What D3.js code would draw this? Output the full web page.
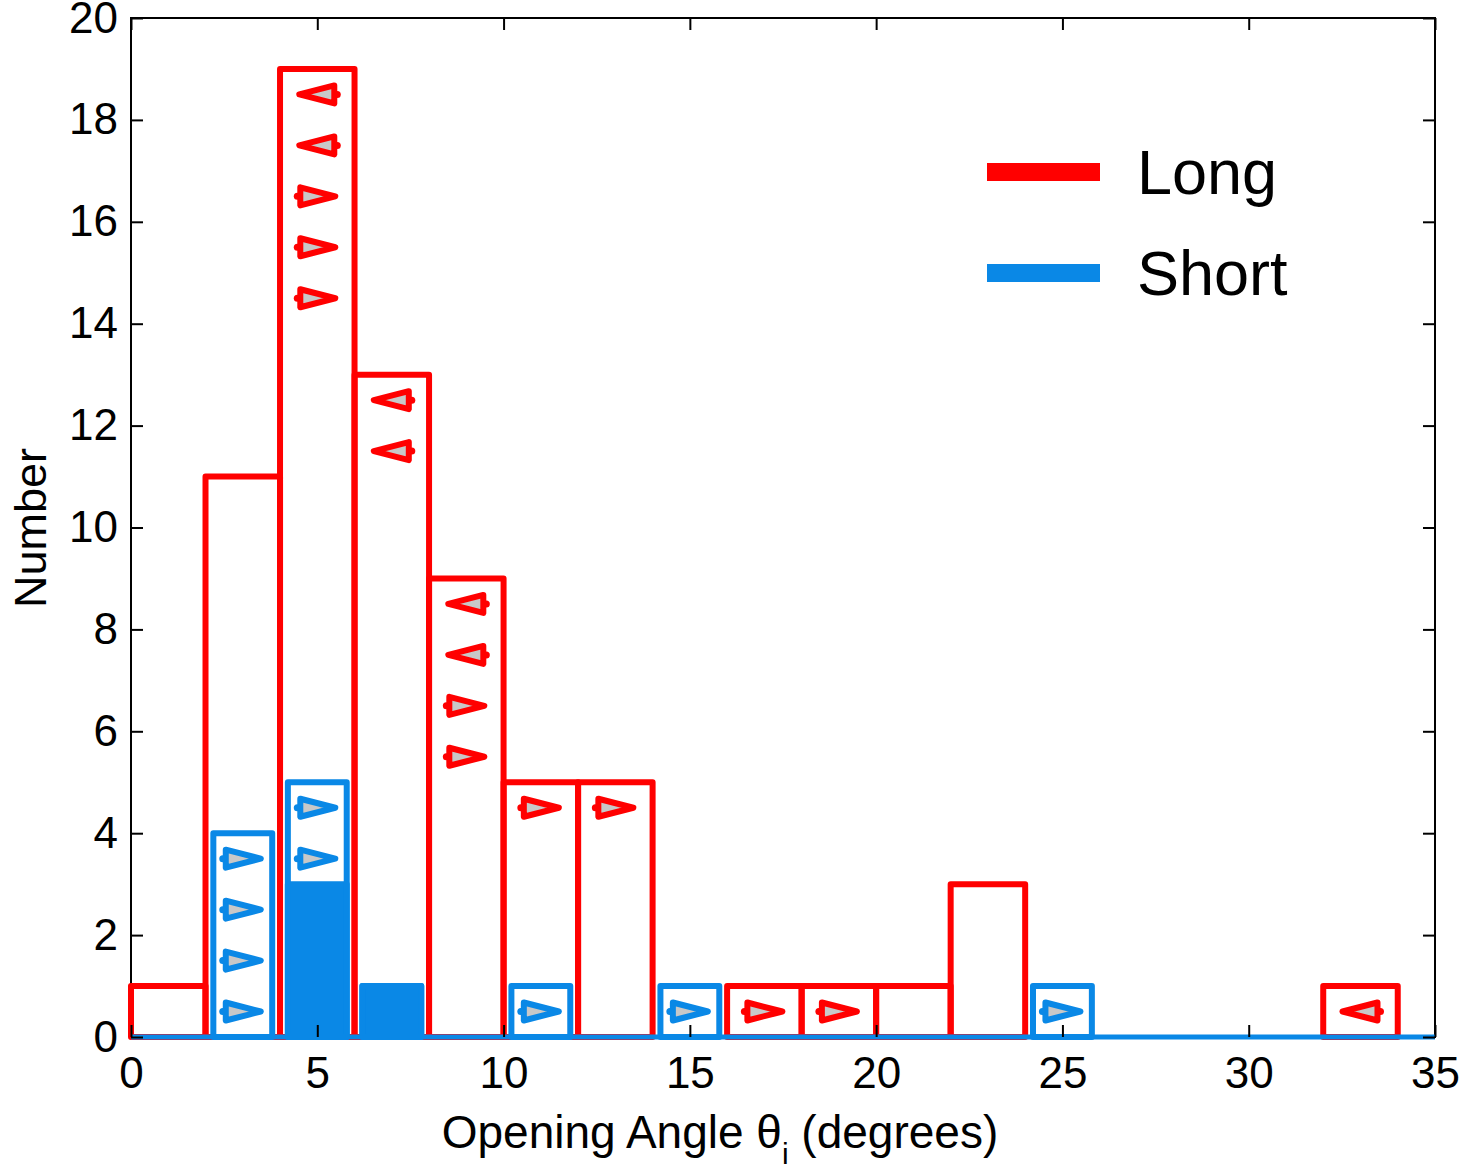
<!DOCTYPE html>
<html>
<head>
<meta charset="utf-8">
<script src="https://cdn.jsdelivr.net/npm/d3@7"></script>
<style>
    body { margin: 0; background: white; }
    svg { display: block; font-family: "Liberation Sans", Arial, Helvetica, sans-serif; }
</style>
</head>
<body>
<svg width="1462" height="1170"></svg>
<script>
let longColor = "#ff0000";
let shortColor = "#0a88e6";
let markerFill = "#c8c8c8";

// histogram bins, 2 degrees wide, starting at 0
const binStarts = [0, 2, 4, 6, 8, 10, 12, 14, 16, 18, 20, 22, 24, 26, 28, 30, 32];
const longCounts = [1, 11, 19, 13, 9, 5, 5, 0, 1, 1, 1, 3, 0, 0, 0, 0, 1];
const shortCounts = [0, 4, 5, 1, 0, 1, 0, 1, 0, 0, 0, 0, 1, 0, 0, 0, 0];
const shortFilled = [0, 0, 3, 1, 0, 0, 0, 0, 0, 0, 0, 0, 0, 0, 0, 0, 0];

// triangle markers (x = bin centre, y = level, dir = pointing side)
const longMarkerX = [5, 5, 5, 5, 5, 7, 7, 9, 9, 9, 9, 11, 13, 17, 19, 33];
const longMarkerY = [18.5, 17.5, 16.5, 15.5, 14.5, 12.5, 11.5, 8.5, 7.5, 6.5, 5.5, 4.5, 4.5, 0.5, 0.5, 0.5];
const longMarkerDir = ["L", "L", "R", "R", "R", "L", "L", "L", "L", "R", "R", "R", "R", "R", "R", "L"];
const shortMarkerX = [3, 3, 3, 3, 5, 5, 11, 15, 25];
const shortMarkerY = [3.5, 2.5, 1.5, 0.5, 4.5, 3.5, 0.5, 0.5, 0.5];
const shortMarkerDir = ["R", "R", "R", "R", "R", "R", "R", "R", "R"];

const xTicks = [0, 5, 10, 15, 20, 25, 30, 35];
const yTicks = [0, 2, 4, 6, 8, 10, 12, 14, 16, 18, 20];
const legendLabels = ["Long", "Short"];

const binWidth = 2;
const shortInset = 0.21;

let xScale = d3.scaleLinear()
    .domain([0, 35])
    .range([131, 1435]);

let yScale = d3.scaleLinear()
    .domain([0, 20])
    .range([1037, 18]);

const svg = d3.select("svg");

const drawHistogram = (counts, color, inset, filled) => {
    svg.append("g")
        .selectAll("rect")
        .data(counts)
        .enter().append("rect")
        .attr("x", (d, i) => xScale(binStarts[i] + inset))
        .attr("y", d => yScale(d))
        .attr("width", (d, i) => xScale(binStarts[i] + binWidth - inset) - xScale(binStarts[i] + inset))
        .attr("height", d => yScale(0) - yScale(d))
        .attr("fill", filled ? color : "none")
        .attr("stroke", color)
        .attr("stroke-width", 6)
        .attr("stroke-linejoin", "round")
        .style("display", d => (filled && d == 0) ? "none" : null);
};

const markerPath = (dir) => {
    let s = dir == "R" ? 1 : -1;
    return `M${-17 * s},-9 L${18 * s},0 L${-17 * s},9 Z`;
};

const drawMarkers = (xs, ys, dirs, color) => {
    let g = svg.append("g");
    xs.forEach((x, i) => {
        let m = g.append("g")
            .attr("transform", `translate(${xScale(x)},${yScale(ys[i])})`);
        m.append("path")
            .attr("d", markerPath(dirs[i]))
            .attr("fill", markerFill)
            .attr("stroke", color)
            .attr("stroke-width", 6)
            .attr("stroke-linejoin", "round");
        m.append("circle")
            .attr("cx", dirs[i] == "R" ? -20 : 20)
            .attr("cy", 0)
            .attr("r", 3.5)
            .attr("fill", color);
    });
};

const drawFrame = () => {
    svg.append("rect")
        .attr("x", xScale(0))
        .attr("y", yScale(20))
        .attr("width", xScale(35) - xScale(0))
        .attr("height", yScale(0) - yScale(20))
        .attr("fill", "none")
        .attr("stroke", "black")
        .attr("stroke-width", 2);
};

const drawAxes = () => {
    let fontSize = 44;
    let tick = 12;

    // bottom / top
    svg.append("g")
        .attr("transform", `translate(0, ${yScale(0)})`)
        .call(d3.axisBottom(xScale).tickValues(xTicks).tickSizeInner(-tick).tickSizeOuter(0).tickPadding(20))
        .call(g => g.select(".domain").remove());
    svg.append("g")
        .attr("transform", `translate(0, ${yScale(20)})`)
        .call(d3.axisTop(xScale).tickValues(xTicks).tickSizeInner(-tick).tickSizeOuter(0).tickFormat(""))
        .call(g => g.select(".domain").remove());

    // left / right
    svg.append("g")
        .attr("transform", `translate(${xScale(0)}, 0)`)
        .call(d3.axisLeft(yScale).tickValues(yTicks).tickSizeInner(-tick).tickSizeOuter(0).tickPadding(13))
        .call(g => g.select(".domain").remove());
    svg.append("g")
        .attr("transform", `translate(${xScale(35)}, 0)`)
        .call(d3.axisRight(yScale).tickValues(yTicks).tickSizeInner(-tick).tickSizeOuter(0).tickFormat(""))
        .call(g => g.select(".domain").remove());

    svg.selectAll(".tick line").attr("stroke", "black").attr("stroke-width", 2);
    svg.selectAll(".tick text")
        .attr("font-size", fontSize)
        .attr("font-family", "Liberation Sans, Arial, sans-serif")
        .attr("fill", "black");

    let xl = svg.append("text")
        .attr("x", 720)
        .attr("y", 1148)
        .attr("text-anchor", "middle")
        .attr("font-size", 46)
        .attr("fill", "black");
    xl.append("tspan").text("Opening Angle θ");
    xl.append("tspan").attr("font-size", 30).attr("dy", 16).text("i");
    xl.append("tspan").attr("dy", -16).text(" (degrees)");

    svg.append("text")
        .attr("transform", "translate(46, 528) rotate(-90)")
        .attr("text-anchor", "middle")
        .attr("font-size", 45)
        .attr("fill", "black")
        .text("Number");
};

const drawLegend = () => {
    let colors = [longColor, shortColor];
    let rows = [172, 273];
    legendLabels.forEach((label, i) => {
        svg.append("line")
            .attr("x1", 987).attr("x2", 1100)
            .attr("y1", rows[i]).attr("y2", rows[i])
            .attr("stroke", colors[i])
            .attr("stroke-width", 18);
        svg.append("text")
            .attr("x", 1137)
            .attr("y", rows[i] + 22)
            .attr("font-size", 63)
            .attr("fill", "black")
            .text(label);
    });
};

const drawPlot = () => {
    drawFrame();
    drawHistogram(longCounts, longColor, 0, false);
    drawHistogram(shortFilled, shortColor, shortInset, true);
    drawHistogram(shortCounts, shortColor, shortInset, false);

    // short baseline spans whole axis, over the frame
    svg.append("line")
        .attr("x1", xScale(0)).attr("x2", xScale(35))
        .attr("y1", yScale(0)).attr("y2", yScale(0))
        .attr("stroke", shortColor)
        .attr("stroke-width", 5);

    drawMarkers(longMarkerX, longMarkerY, longMarkerDir, longColor);
    drawMarkers(shortMarkerX, shortMarkerY, shortMarkerDir, shortColor);
    drawAxes();
    drawLegend();
};

drawPlot();
</script>
</body>
</html>
